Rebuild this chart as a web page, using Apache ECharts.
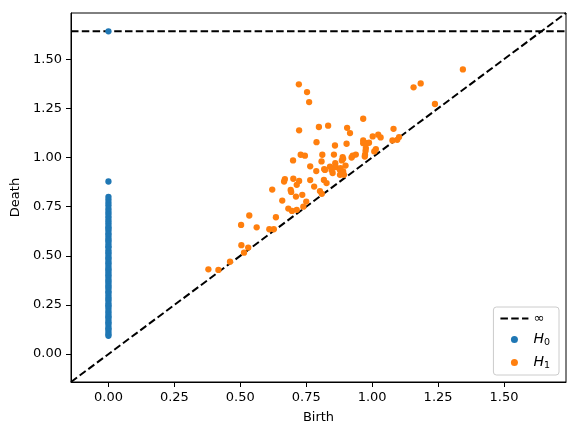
<!DOCTYPE html>
<html>
<head>
<meta charset="utf-8">
<script src="https://cdn.jsdelivr.net/npm/echarts@6/dist/echarts.min.js"></script>
<style>
  html, body { margin: 0; padding: 0; background: #fff; }
  #chart { width: 579px; height: 436px; }
</style>
</head>
<body>
<div id="chart"></div>
<script>
// axis range (same for birth and death) and tick labels
const limits = [-0.142, 1.735];
const tickValues = [0, 0.25, 0.5, 0.75, 1.0, 1.25, 1.5];
const infinityValue = 1.642;

// H0: every class is born at 0
const h0Deaths = [0.093, 0.101, 0.112, 0.124, 0.131, 0.143, 0.156, 0.162, 0.175, 0.188, 0.194, 0.207,
    0.216, 0.229, 0.241, 0.248, 0.259, 0.272, 0.281, 0.290, 0.302, 0.314, 0.321, 0.335, 0.344, 0.353,
    0.366, 0.374, 0.385, 0.397, 0.404, 0.416, 0.428, 0.433, 0.445, 0.458, 0.464, 0.476, 0.487, 0.495,
    0.509, 0.517, 0.528, 0.542, 0.549, 0.561, 0.574, 0.582, 0.593, 0.606, 0.614, 0.627, 0.638, 0.645,
    0.657, 0.668, 0.679, 0.692, 0.703, 0.716, 0.728, 0.741, 0.757, 0.771, 0.786, 0.800, 0.878, infinityValue];

// H1 classes
const h1Births = [0.379, 0.417, 0.461, 0.503, 0.534, 0.562, 0.504, 0.514, 0.530, 0.610, 0.627, 0.635,
    0.621, 0.659, 0.682, 0.696, 0.714, 0.739, 0.750, 0.711, 0.735, 0.691, 0.693, 0.669, 0.666, 0.701,
    0.723, 0.714, 0.765, 0.780, 0.802, 0.809, 0.817, 0.827, 0.765, 0.788, 0.818, 0.840, 0.846, 0.860,
    0.862, 0.850, 0.878, 0.899, 0.884, 0.893, 0.729, 0.745, 0.700, 0.811, 0.808, 0.855, 0.888, 0.885,
    0.926, 0.938, 0.976, 0.973, 1.014, 1.008, 0.789, 0.859, 0.903, 0.966, 1.002, 1.023, 1.032, 0.979,
    0.988, 1.077, 1.102, 0.723, 0.798, 0.833, 0.905, 0.916, 0.966, 1.081, 0.722, 0.753, 0.761, 1.157,
    1.184, 1.344, 1.238, 0.975, 0.972, 0.966, 1.095, 0.922, 0.890, 0.821, 0.880, 0.890, 0.878];
const h1Deaths = [0.431, 0.428, 0.470, 0.657, 0.705, 0.645, 0.554, 0.516, 0.542, 0.635, 0.635, 0.696,
    0.837, 0.781, 0.740, 0.728, 0.734, 0.750, 0.776, 0.801, 0.810, 0.835, 0.825, 0.890, 0.878, 0.892,
    0.881, 0.861, 0.885, 0.852, 0.829, 0.815, 0.886, 0.870, 0.955, 0.931, 0.941, 0.954, 0.937, 0.971,
    0.951, 0.921, 0.937, 0.959, 0.921, 0.912, 1.014, 1.009, 0.985, 1.014, 0.980, 1.015, 1.002, 0.985,
    1.009, 1.015, 1.048, 1.014, 1.043, 1.031, 1.078, 1.061, 1.070, 1.087, 1.107, 1.116, 1.102, 1.073,
    1.075, 1.087, 1.104, 1.138, 1.155, 1.162, 1.151, 1.124, 1.197, 1.146, 1.372, 1.333, 1.282, 1.357,
    1.377, 1.448, 1.272, 1.034, 1.005, 1.073, 1.090, 1.000, 0.993, 0.937, 0.946, 0.929, 0.912];

const font = 'DejaVu Sans';
let chart = echarts.init(document.getElementById('chart'));

function axisOf(name, nameGap) {
    return {
        type: 'value',
        min: limits[0],
        max: limits[1],
        name: name,
        nameLocation: 'middle',
        nameGap: nameGap,
        nameTextStyle: { color: '#000', fontFamily: font, fontSize: 13 },
        axisLine: { show: true, onZero: false, lineStyle: { color: '#000', width: 1 } },
        axisTick: {
            show: true, inside: false, length: 5,
            customValues: tickValues,
            lineStyle: { color: '#000', width: 1 }
        },
        axisLabel: {
            show: true, margin: 9,
            customValues: tickValues,
            formatter: v => v.toFixed(2),
            color: '#000', fontFamily: font, fontSize: 13
        },
        splitLine: { show: false }
    };
}

// matplotlib style 'k--'
const dashed = { color: '#000', width: 2, type: [7.5, 3.3] };

let option = {
    backgroundColor: '#fff',
    animation: false,
    grid: {
        left: 71, right: 13, top: 13, bottom: 54,
        show: true, borderColor: '#000', borderWidth: 1, backgroundColor: 'transparent'
    },
    xAxis: axisOf('Birth', 29),
    yAxis: axisOf('Death', 46),
    legend: {
        orient: 'vertical',
        right: 20,
        bottom: 61,
        data: [
            { name: '∞', itemStyle: { color: 'transparent', borderWidth: 0 } },
            'H0',
            'H1'
        ],
        itemWidth: 28,
        itemHeight: 7,
        itemGap: 6,
        padding: [5, 9, 4, 6],
        backgroundColor: 'rgba(255,255,255,0.8)',
        borderColor: '#cccccc',
        borderWidth: 1,
        borderRadius: 3,
        formatter: function (name) {
            if (name === 'H0') return '{i|H}{s|0}';
            if (name === 'H1') return '{i|H}{s|1}';
            return '{n|∞}';
        },
        textStyle: {
            color: '#000', fontFamily: font, fontSize: 13,
            rich: {
                n: { fontFamily: font, fontSize: 13, color: '#000', lineHeight: 16 },
                i: { fontFamily: font, fontSize: 14, fontStyle: 'italic', color: '#000', lineHeight: 16 },
                s: { fontFamily: font, fontSize: 9.5, color: '#000', lineHeight: 16, padding: [7, 0, 0, 0] }
            }
        }
    },
    series: [
        {
            // diagonal
            name: 'diagonal',
            type: 'line',
            data: [[limits[0], limits[0]], [limits[1], limits[1]]],
            symbol: 'none',
            lineStyle: dashed,
            z: 1
        },
        {
            name: '∞',
            type: 'line',
            data: [[limits[0], infinityValue], [limits[1], infinityValue]],
            symbol: 'none',
            lineStyle: dashed,
            itemStyle: { color: '#000' },
            z: 1
        },
        {
            name: 'H0',
            type: 'scatter',
            data: h0Deaths.map(d => [0, d]),
            symbolSize: 6.3,
            itemStyle: { color: '#1f77b4', opacity: 1 },
            z: 2
        },
        {
            name: 'H1',
            type: 'scatter',
            data: h1Births.map((b, i) => [b, h1Deaths[i]]),
            symbolSize: 6.3,
            itemStyle: { color: '#ff7f0e', opacity: 1 },
            z: 3
        }
    ]
};
chart.setOption(option);
</script>
</body>
</html>
